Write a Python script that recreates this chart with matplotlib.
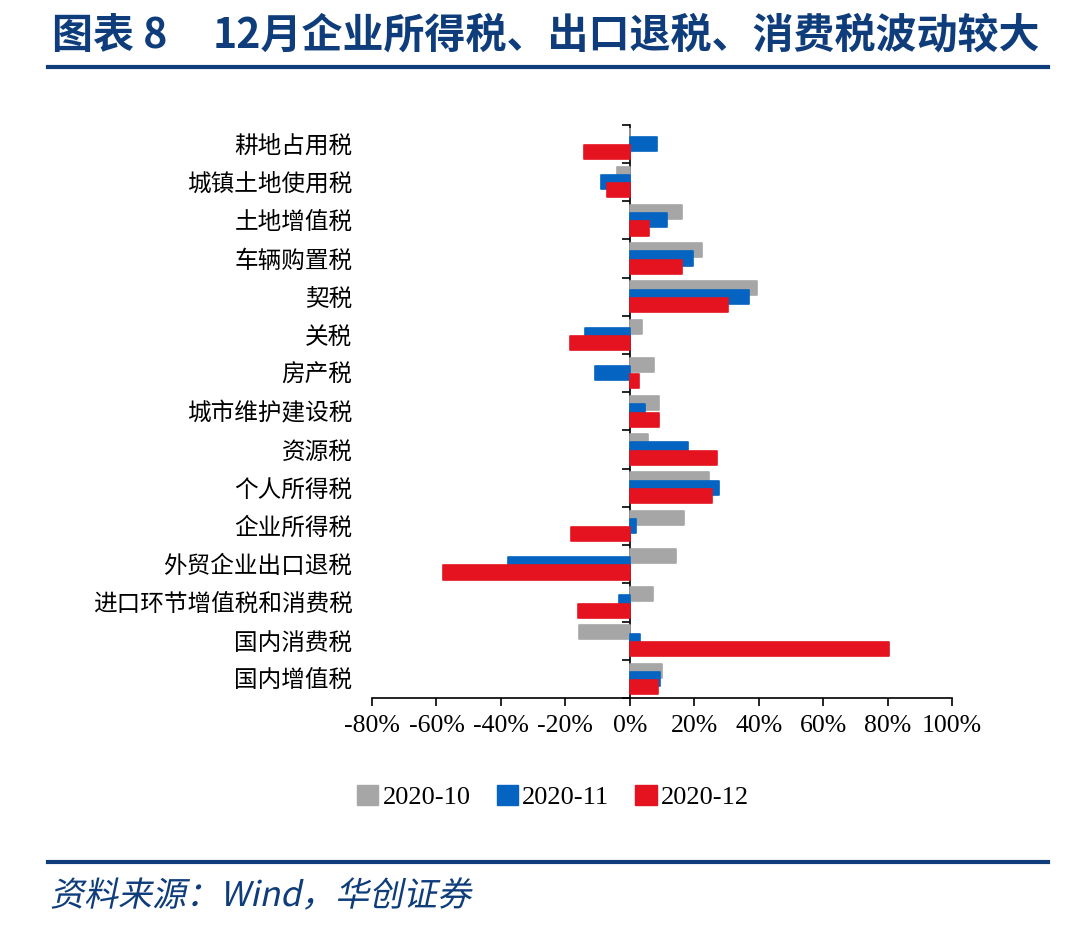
import numpy as np
import matplotlib
matplotlib.use('Agg')
import matplotlib.pyplot as plt
from matplotlib.patches import Patch, PathPatch
from matplotlib.textpath import TextPath
from matplotlib.font_manager import FontProperties
from matplotlib.transforms import Affine2D, IdentityTransform

plt.rcParams['font.family'] = ['Noto Sans CJK SC', 'DejaVu Sans']

# 数据（单位：%，自上而下）
categories = ['耕地占用税', '城镇土地使用税', '土地增值税', '车辆购置税', '契税',
              '关税', '房产税', '城市维护建设税', '资源税', '个人所得税',
              '企业所得税', '外贸企业出口退税', '进口环节增值税和消费税',
              '国内消费税', '国内增值税']
s_2020_10 = [0.0, -4.1, 16.3, 22.4, 39.6, 3.8, 7.4, 9.1, 5.6, 24.6,
             16.7, 14.4, 7.2, -15.9, 10.0]
s_2020_11 = [8.4, -9.0, 11.6, 19.6, 37.0, -13.8, -10.9, 4.8, 18.2, 27.7,
             1.8, -37.8, -3.4, 3.3, 9.3]
s_2020_12 = [-14.1, -7.2, 6.0, 16.2, 30.6, -18.5, 2.9, 9.1, 27.1, 25.6,
             -18.2, -58.1, -16.2, 80.4, 8.8]
series_names = ['2020-10', '2020-11', '2020-12']
x_ticks = [-80, -60, -40, -20, 0, 20, 40, 60, 80, 100]

colors = ['#a6a6a6', '#0563c1', '#e5131f']
navy = '#0f3d7c'

fig = plt.figure(figsize=(10.8, 9.26), dpi=100)
ax = fig.add_axes([372 / 1080, 1 - 698 / 926, 580 / 1080, (698 - 124.7) / 926])

y = np.arange(len(categories))
off = 0.217
h = 0.37
for k, (vals, c) in enumerate(zip([s_2020_10, s_2020_11, s_2020_12], colors)):
    ax.barh(y + (k - 1) * off, vals, height=h, color=c, edgecolor=c,
            linewidth=1.2, joinstyle='round', zorder=2 + k)

ax.set_xlim(-80, 100)
ax.set_ylim(len(categories) - 0.5, -0.5)

# 坐标轴样式
for s in ['left', 'right', 'top']:
    ax.spines[s].set_visible(False)
ax.spines['bottom'].set_linewidth(1.2)
ax.set_xticks(x_ticks)
ax.set_xticklabels([f'{t}%' for t in x_ticks], fontfamily='Liberation Serif', fontsize=18.5)
ax.tick_params(axis='x', direction='out', length=6, width=1.2, pad=6)
ax.set_yticks(y)
ax.set_yticklabels(categories, fontsize=17)
ax.tick_params(axis='y', length=0, pad=14)

# 0 处的纵轴及分组刻度
sec = ax.secondary_yaxis(80 / 180)
sec.set_yticks(np.arange(-0.5, len(categories) + 0.5, 1))
sec.set_yticklabels([])
sec.tick_params(direction='out', length=6, width=1.2)
sec.spines['left'].set_linewidth(1.2)

# 图例
handles = [Patch(facecolor=c, edgecolor=c, joinstyle='round') for c in colors]
fig.legend(handles, series_names, loc='center', bbox_to_anchor=(553 / 1080, 1 - 797 / 926),
           ncol=3, frameon=False, prop={'family': 'Liberation Serif', 'size': 19},
           handlelength=0.8, handleheight=0.8, handletextpad=0.15, columnspacing=1.0)

# 标题与来源
fig.text(52 / 1080, 1 - 36 / 926, '图表 8', fontsize=29.5, fontweight='bold', color=navy,
         va='center', ha='left')
fig.text(213 / 1080, 1 - 36 / 926, '12月企业所得税、出口退税、消费税波动较大', fontsize=29.5,
         fontweight='bold', color=navy, va='center', ha='left')
fig.add_artist(plt.Line2D([48 / 1080, 1048 / 1080], [1 - 67 / 926] * 2, color=navy, lw=3))
fig.add_artist(plt.Line2D([48 / 1080, 1048 / 1080], [1 - 862 / 926] * 2, color=navy, lw=3))

# 斜体来源文字（字体无斜体，用倾斜变换）
tp = TextPath((0, 0), '资料来源：Wind，华创证券', size=34,
              prop=FontProperties(family='Noto Sans CJK SC'))
tr = Affine2D().skew_deg(12, 0).translate(50, 926 - 906)
fig.add_artist(PathPatch(tp, facecolor=navy, edgecolor='none',
                         transform=tr + IdentityTransform()))

plt.savefig('out.png', dpi=100)
